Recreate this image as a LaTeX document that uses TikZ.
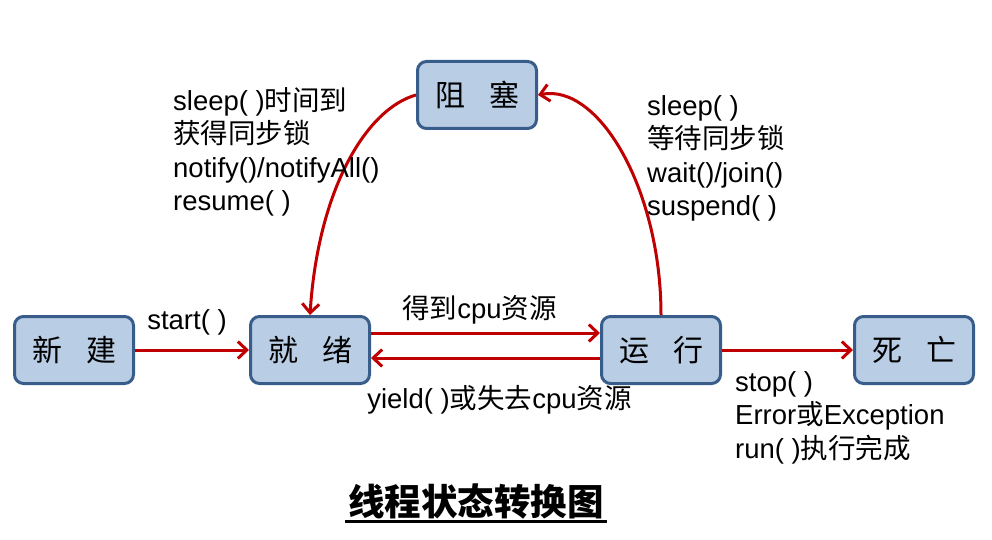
\documentclass[tikz,border=0pt]{standalone}
\usepackage{fontspec}
\setmainfont{Liberation Sans}
\newfontfamily\cjk{Noto Sans CJK SC}
\usetikzlibrary{arrows.meta,positioning}
\definecolor{boxfill}{RGB}{185,205,229}
\definecolor{boxline}{RGB}{56,93,138}
\definecolor{arrred}{RGB}{192,0,0}

\begin{document}
\begin{tikzpicture}[
  x=1pt, y=-1pt,
  state/.style={draw=boxline, line width=3pt, rounded corners=9pt, fill=boxfill,
    minimum width=119pt, minimum height=67pt, inner sep=0pt,
    font=\fontsize{30}{34}\selectfont\cjk},
  arr/.style={-{Straight Barb[length=9pt,width=17pt]}, line width=3pt, arrred},
  lbl/.style={font=\fontsize{27.5}{33.5}\selectfont, text=black, align=left, inner sep=0pt}
]
\useasboundingbox (0,0) rectangle (992,540);
% states
\node[state] (xinjian) at (74,350) {新\hspace{0.8em}建};
\node[state, right=114pt of xinjian] (jiuxu) {就\hspace{0.8em}绪};
\node[state, right=229pt of jiuxu] (yunxing) {运\hspace{0.8em}行};
\node[state, right=131pt of yunxing] (siwang) {死\hspace{0.8em}亡};
\node[state] (zusai) at (477,95) {阻\hspace{0.8em}塞};
% transitions
\draw[arr] (xinjian) -- node[lbl, above=13pt, xshift=-5pt]{start( )} (jiuxu);
\draw[arr] ([yshift=17pt]jiuxu.east) -- node[lbl, above=7pt, xshift=-6pt]{{\cjk 得到}cpu{\cjk 资源}} ([yshift=17pt]yunxing.west);
\draw[arr] ([yshift=-8pt]yunxing.west) -- node[lbl, below=26pt, xshift=14pt]{yield( ){\cjk 或失去}cpu{\cjk 资源}} ([yshift=-8pt]jiuxu.east);
\draw[arr] (yunxing) -- (siwang);
\draw[arr] (yunxing.north) .. controls +(0,-125) and +(61,-12) .. (zusai.east);
\draw[arr] (zusai.west) .. controls +(-50,14) and +(8,-125) .. (jiuxu.north);
% labels
\node[lbl, anchor=north west] (toready) at (173,87)
  {sleep( ){\cjk 时间到}\\{\cjk 获得同步锁}\\notify()/notifyAll()\\resume( )};
\node[lbl, anchor=north west] (toblock) at (647,95)
  {sleep( )\\{\cjk 等待同步锁}\\wait()/join()\\suspend( )};
\node[lbl, anchor=north west] (todead) at (735,371)
  {stop( )\\Error{\cjk 或}Exception\\run( ){\cjk 执行完成}};
% title
\node[font=\fontsize{36.5}{40}\selectfont\cjk\bfseries, inner sep=0pt] (title) at (476,502) {线程状态转换图};
\draw[line width=3pt] ([xshift=-3pt,yshift=-6pt]title.base west) -- ([xshift=3pt,yshift=-6pt]title.base east);
\end{tikzpicture}
\end{document}
